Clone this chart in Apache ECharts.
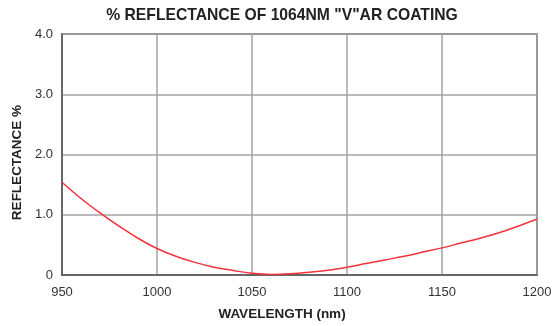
<!DOCTYPE html>
<html>
<head>
<meta charset="utf-8">
<script src="https://cdn.jsdelivr.net/npm/echarts@6/dist/echarts.min.js"></script>
<style>
  html, body { margin: 0; padding: 0; background: #fff; }
  #chart { width: 555px; height: 326px; }
</style>
</head>
<body>
<div id="chart"></div>
<script>
/* % reflectance of 1064nm V-AR coating */
var wavelengths = [950, 960, 970, 980, 990, 1000, 1010, 1020, 1030, 1040, 1050,
  1060, 1070, 1080, 1090, 1100, 1110, 1120, 1130, 1140, 1150,
  1160, 1170, 1180, 1190, 1200];
var reflectance = [1.54, 1.27, 1.03, 0.81, 0.61, 0.44, 0.31, 0.21, 0.13, 0.075, 0.03,
  0.01, 0.02, 0.045, 0.08, 0.13, 0.19, 0.25, 0.31, 0.38, 0.45,
  0.53, 0.61, 0.70, 0.81, 0.93];
var xTicks = [950, 1000, 1050, 1100, 1150, 1200];
var yTicks = ['0', '1.0', '2.0', '3.0', '4.0'];

var font = "'Liberation Sans', Arial, Helvetica, sans-serif";

var curve = wavelengths.map(function (w, i) { return [w, reflectance[i]]; });

var option = {
  animation: false,
  title: {
    text: '% REFLECTANCE OF 1064NM "V"AR COATING',
    left: 277,
    textAlign: 'center',
    top: 3,
    textStyle: { fontFamily: font, fontSize: 15.7, fontWeight: 'bold', color: '#222' }
  },
  grid: {
    left: 62,
    right: 18,
    top: 34,
    bottom: 51,
    show: true,
    borderColor: '#555',
    borderWidth: 1.5
  },
  xAxis: {
    type: 'value',
    min: xTicks[0],
    max: xTicks[xTicks.length - 1],
    interval: 50,
    name: 'WAVELENGTH (nm)',
    nameLocation: 'middle',
    nameGap: 32,
    nameTextStyle: { fontFamily: font, fontSize: 13.5, fontWeight: 'bold', color: '#222', padding: [0, 35, 0, 0] },
    axisLine: { show: true, lineStyle: { color: '#555', width: 1.5 } },
    axisTick: { show: false },
    axisLabel: {
      fontFamily: font, fontSize: 13, color: '#333', margin: 11,
      formatter: function (v) { return String(v); }
    },
    splitLine: { show: true, lineStyle: { color: '#a3a3a3', width: 1.5 } }
  },
  yAxis: {
    type: 'value',
    min: 0,
    max: 4,
    interval: 1,
    name: 'REFLECTANCE %',
    nameLocation: 'middle',
    nameGap: 33,
    nameTextStyle: { fontFamily: font, fontSize: 13.5, fontWeight: 'bold', color: '#222', padding: [0, 16, 0, 0] },
    axisLine: { show: true, lineStyle: { color: '#555', width: 1.5 } },
    axisTick: { show: false },
    axisLabel: {
      fontFamily: font, fontSize: 13, color: '#333', margin: 9,
      formatter: function (v) { return yTicks[Math.round(v)]; }
    },
    splitLine: { show: true, lineStyle: { color: '#a3a3a3', width: 1.5 } }
  },
  series: [{
    type: 'line',
    data: curve,
    smooth: 0.4,
    showSymbol: false,
    lineStyle: { color: '#f2323c', width: 1.5 }
  }]
};

var chart = echarts.init(document.getElementById('chart'));
chart.setOption(option);
</script>
</body>
</html>
